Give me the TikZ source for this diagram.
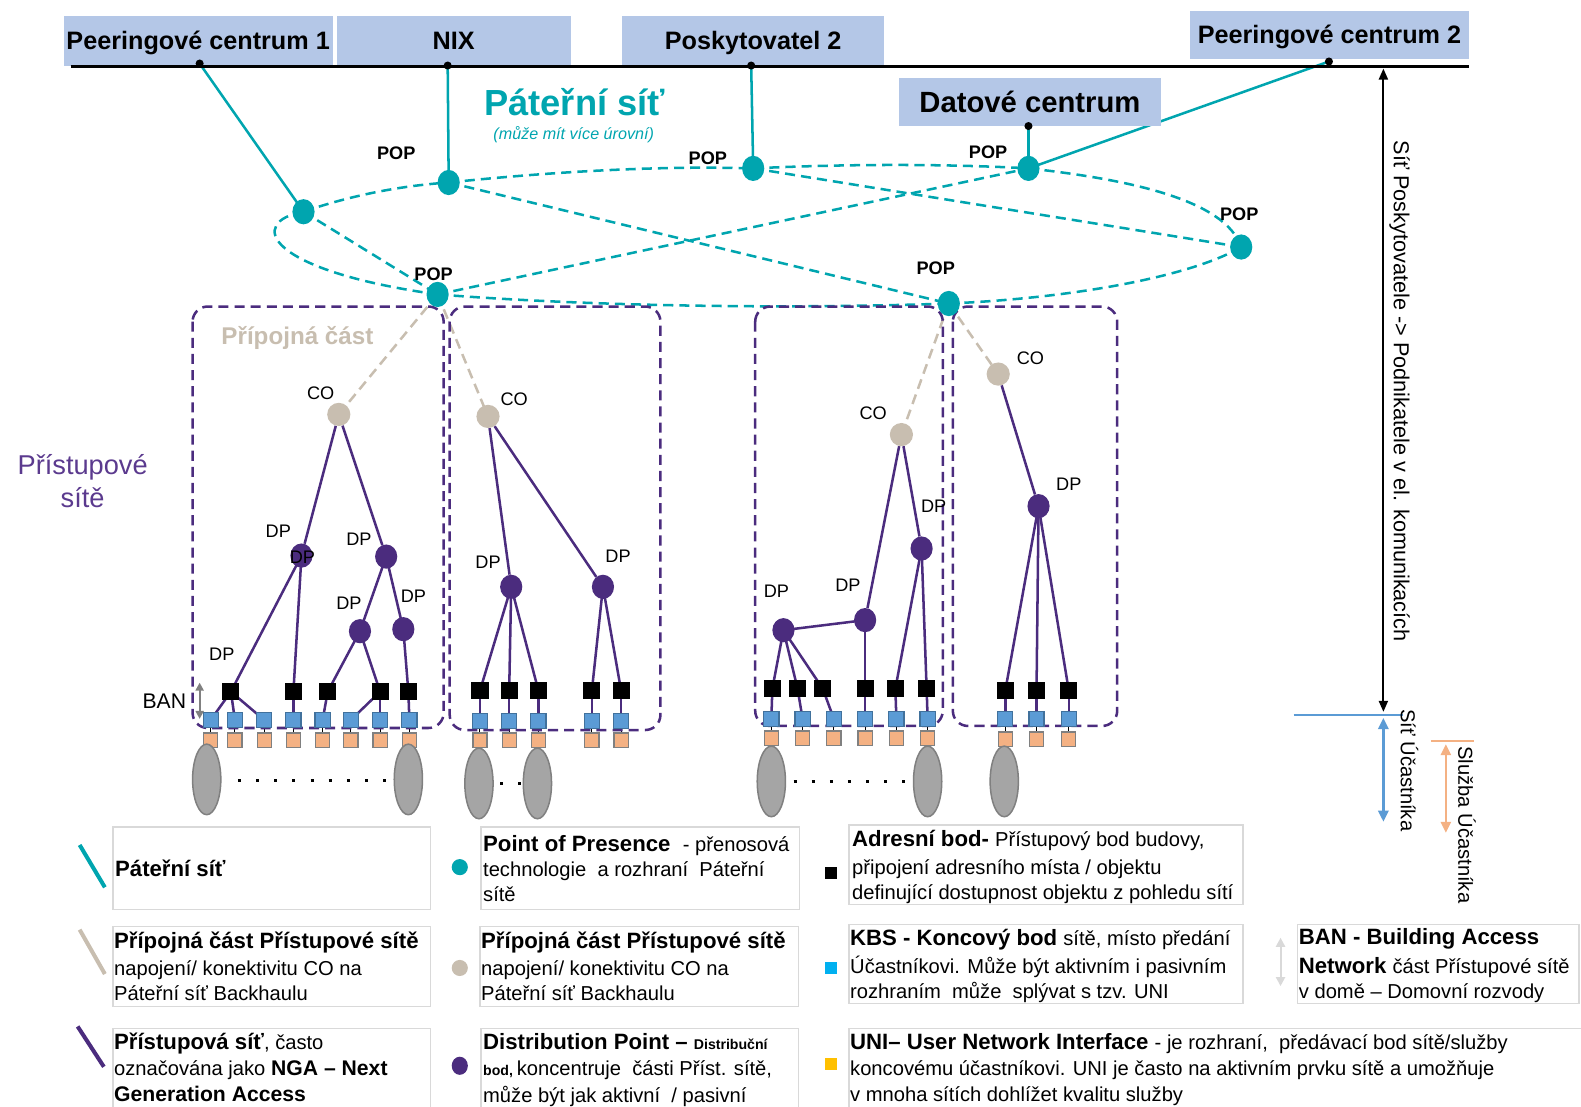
\documentclass[tikz,border=0pt]{standalone}
\usepackage{fontspec}
\setmainfont{Liberation Sans}
\usetikzlibrary{arrows.meta,shapes.geometric,backgrounds}
\definecolor{tealc}{HTML}{00A5AF}
\definecolor{purp}{HTML}{4B2C7E}
\definecolor{purptxt}{HTML}{5B3A8E}
\definecolor{beige}{HTML}{C8BEB0}
\definecolor{hdrblue}{HTML}{B4C7E7}
\definecolor{kbsblue}{HTML}{5B9BD5}
\definecolor{kbsedge}{HTML}{41719C}
\definecolor{uniorange}{HTML}{F4B183}
\definecolor{usergray}{HTML}{A5A5A5}
\definecolor{lgbox}{HTML}{D9D9D9}
\definecolor{lgblue}{HTML}{00B0F0}
\definecolor{lgyellow}{HTML}{FFC000}
\newcommand{\fsz}[1]{\fontsize{#1}{#1}\selectfont}
\newcommand{\lgB}{\fontsize{22}{26}\selectfont\bfseries}
\newcommand{\lgR}{\fontsize{20}{25}\selectfont\mdseries}
\begin{document}
\begin{tikzpicture}[x=1pt,y=-1pt,
 hdr/.style={fill=hdrblue, inner sep=0, font=\fsz{25}\bfseries, text height=17, text depth=0},
 bdot/.style={circle, fill=black, minimum size=8, inner sep=0},
 pop/.style={ellipse, fill=tealc, minimum width=22, minimum height=25, inner sep=0},
 conode/.style={circle, fill=beige, minimum size=23, inner sep=0},
 dpnode/.style={ellipse, fill=purp, minimum width=22, minimum height=24, inner sep=0},
 blk/.style={rectangle, fill=black, minimum size=17, inner sep=0},
 kbs/.style={rectangle, fill=kbsblue, draw=kbsedge, line width=1.2, minimum size=15, inner sep=0},
 uni/.style={rectangle, fill=uniorange, draw=gray, line width=1.2, minimum size=14, inner sep=0},
 user/.style={ellipse, fill=usergray, draw=gray, line width=1.5, minimum width=28, minimum height=70, inner sep=0},
 poplbl/.style={font=\fsz{18}\bfseries, inner sep=0},
 lbl/.style={font=\fsz{18}, inner sep=0},
 backbone/.style={draw=tealc, line width=2.5},
 bbdash/.style={draw=tealc, line width=2.5, dash pattern=on 10pt off 6pt},
 bgdash/.style={draw=beige, line width=2.5, dash pattern=on 10pt off 6pt},
 tree/.style={draw=purp, line width=2.5},
 pbox/.style={draw=purp, line width=2.5, dash pattern=on 10pt off 6pt, rounded corners=15},
 lgbx/.style={draw=lgbox, line width=1.5},
 lgt/.style={anchor=base west, inner sep=0},
 dots/.style={line width=3, dash pattern=on 3pt off 15pt}
]
\useasboundingbox (0,0) rectangle (1568,1097);
\clip (0,0) rectangle (1568,1097);

% ---------- header ----------
\node[hdr, minimum width=267, minimum height=49] (pc1) at (196.5,40.5) {Peeringové centrum 1};
\node[hdr, minimum width=232, minimum height=49] (nix) at (450,40.5) {NIX};
\node[hdr, minimum width=260, minimum height=49] (pos2) at (747,40.5) {Poskytovatel 2};
\node[hdr, minimum width=277, minimum height=48] (pc2) at (1318.5,35) {Peeringové centrum 2};
\node[hdr, minimum width=259, minimum height=48, font=\fsz{29}\bfseries, text height=22] (dc) at (1021.5,101) {Datové centrum};
\coordinate (barL) at (70,66);
\coordinate (barR) at (1457,66);
\draw[line width=2.5] (barL) -- (barR);
\node[bdot] (d1) at (198,63) {};
\node[bdot] (d2) at (444,65) {};
\node[bdot] (d3) at (745,65) {};
\node[bdot] (d4) at (1318,61) {};
\node[bdot] (dd) at (1020,125) {};

\node[font=\fsz{36}\bfseries, text=tealc, inner sep=0] (patn) at (570,101) {Páteřní síť};
\node[font=\fsz{16}\itshape, text=tealc, inner sep=0] (patsub) at (569,134) {(může mít více úrovní)};

% ---------- POPs ----------
\node[pop] (P1) at (301,210) {};
\node[pop] (P2) at (445,181) {};
\node[pop] (P3) at (747,167) {};
\node[pop] (P4) at (1020,167) {};
\node[pop] (P5) at (1231,245) {};
\node[pop] (P6) at (434,292) {};
\node[pop] (P7) at (941,301) {};

% ---------- access nodes ----------
\node[conode] (coA) at (336,411) {};
\node[conode] (coB) at (484,413) {};
\node[conode] (coC) at (894,431) {};
\node[conode] (coD) at (990,371) {};

\node[dpnode] (dpA1) at (299,551) {};
\node[dpnode] (dpA2) at (383,552) {};
\node[dpnode] (dpA3) at (357,626) {};
\node[dpnode] (dpA4) at (400,624) {};
\node[dpnode] (dpB1) at (507,582) {};
\node[dpnode] (dpB2) at (598,582) {};
\node[dpnode] (dpC1) at (914,544) {};
\node[dpnode] (dpC2) at (858,615) {};
\node[dpnode] (dpC3) at (777,625) {};
\node[dpnode] (dpD) at (1030,502) {};

% box A
\foreach \n/\x in {1/229,2/291,3/325,4/377,5/405} \node[blk] (bA\n) at (\x,686) {};
\foreach \n/\x in {1/209,2/233,3/262,4/291,5/320,6/348,7/377,8/406} {\node[kbs] (kA\n) at (\x,714) {}; \node[uni] (oA\n) at (\x,734) {};}
\node[user] (uA1) at (205,773) {};
\node[user] (uA2) at (405,773) {};
% box B
\foreach \n/\x in {1/476,2/505,3/534,4/587,5/616} {\node[blk] (bB\n) at (\x,685) {}; \node[kbs] (kB\n) at (\x,715) {}; \node[uni] (oB\n) at (\x,734) {};}
\node[user] (uB1) at (475,777) {};
\node[user] (uB2) at (533,777) {};
% box C
\foreach \n/\x in {1/766,2/791,3/816,4/858,5/888,6/919} \node[blk] (bC\n) at (\x,683) {};
\foreach \n/\x in {1/765,2/796,3/827,4/858,5/889,6/920} {\node[kbs] (kC\n) at (\x,713) {}; \node[uni] (oC\n) at (\x,732) {};}
\node[user] (uC1) at (765,775) {};
\node[user] (uC2) at (920,775) {};
% box D
\foreach \n/\x in {1/997,2/1028,3/1060} {\node[blk] (bD\n) at (\x,685) {}; \node[kbs] (kD\n) at (\x,713) {}; \node[uni] (oD\n) at (\x,733) {};}
\node[user] (uD1) at (996,775) {};

% ---------- connectors (background) ----------
\begin{scope}[on background layer]
\draw[backbone] (d1.center) -- (P1.center);
\draw[backbone] (d2.center) -- (P2.center);
\draw[backbone] (d3.center) -- (P3.center);
\draw[backbone] (dd.center) -- (P4.center);
\draw[backbone] (d4.center) -- (P4.center);

\draw[bbdash] (P1.center) .. controls (350,193) and (400,184) .. (P2.center);
\draw[bbdash] (P2.center) .. controls (540,171) and (650,164) .. (P3.center);
\draw[bbdash] (P3.center) .. controls (850,162) and (950,163) .. (P4.center);
\draw[bbdash] (P4.center) .. controls (1120,178) and (1215,198) .. (P5.center);
\draw[bbdash] (P5.center) .. controls (1180,275) and (1060,296) .. (P7.center);
\draw[bbdash] (P6.center) .. controls (600,305) and (800,306) .. (P7.center);
\draw[bbdash] (P1.center) .. controls (245,220) and (262,268) .. (P6.center);
\draw[bbdash] (P1.center) -- (P6.center);
\draw[bbdash] (P2.center) -- (P7.center);
\draw[bbdash] (P6.center) -- (P4.center);
\draw[bbdash] (P3.center) -- (P5.center);

\draw[bgdash] (P6.center) -- (coA.center);
\draw[bgdash] (P6.center) -- (coB.center);
\draw[bgdash] (P7.center) -- (coC.center);
\draw[bgdash] (P7.center) -- (coD.center);

\draw[tree] (coA) -- (dpA1);
\draw[tree] (coA) -- (dpA2);
\draw[tree] (dpA1.center) -- (bA1.center);
\draw[tree] (dpA1.center) -- (bA2.center);
\draw[tree] (dpA2.center) -- (dpA3.center);
\draw[tree] (dpA2.center) -- (dpA4.center);
\draw[tree] (dpA3.center) -- (bA3.center);
\draw[tree] (dpA3.center) -- (bA4.center);
\draw[tree] (dpA4.center) -- (bA5.center);
\draw[tree] (bA1.center) -- (kA1.center);
\draw[tree] (bA1.center) -- (kA2.center);
\draw[tree] (bA1.center) -- (kA3.center);
\draw[tree] (bA2.center) -- (kA4.center);
\draw[tree] (bA3.center) -- (kA5.center);
\draw[tree] (bA4.center) -- (kA6.center);
\draw[tree] (bA4.center) -- (kA7.center);
\draw[tree] (bA5.center) -- (kA8.center);

\draw[tree] (coB) -- (dpB1);
\draw[tree] (coB) -- (dpB2);
\foreach \n in {1,2,3} \draw[tree] (dpB1.center) -- (bB\n.center);
\foreach \n in {4,5} \draw[tree] (dpB2.center) -- (bB\n.center);
\foreach \n in {1,...,5} \draw[tree] (bB\n.center) -- (kB\n.center);

\draw[tree] (coC) -- (dpC2);
\draw[tree] (coC) -- (dpC1);
\draw[tree] (dpC2.center) -- (dpC3.center);
\foreach \n in {1,2,3} \draw[tree] (dpC3.center) -- (bC\n.center);
\draw[tree] (dpC2.center) -- (bC4.center);
\foreach \n in {5,6} \draw[tree] (dpC1.center) -- (bC\n.center);
\foreach \n in {1,...,6} \draw[tree] (bC\n.center) -- (kC\n.center);

\draw[tree] (coD) -- (dpD);
\foreach \n in {1,2,3} {\draw[tree] (dpD.center) -- (bD\n.center); \draw[tree] (bD\n.center) -- (kD\n.center);}

\foreach \n in {1,...,8} \draw[line width=1] (kA\n.center) -- (oA\n.center);
\foreach \n in {1,...,5} \draw[line width=1] (kB\n.center) -- (oB\n.center);
\foreach \n in {1,...,6} \draw[line width=1] (kC\n.center) -- (oC\n.center);
\foreach \n in {1,2,3} \draw[line width=1] (kD\n.center) -- (oD\n.center);

\draw[pbox] (191,304) rectangle (440,722);
\draw[pbox] (446,304) rectangle (655,724);
\draw[pbox] (749,304) rectangle (935,720);
\draw[pbox] (945,304) rectangle (1108,720);
\end{scope}

\draw[dots] (236,774) -- (385,774);
\draw[dots] (496,777) -- (520,777);
\draw[dots] (787,775) -- (900,775);

% ---------- labels ----------
\node[poplbl] (lp2) at (393,152) {POP};
\node[poplbl] (lp3) at (702,157) {POP};
\node[poplbl] (lp4) at (980,151) {POP};
\node[poplbl] (lp5) at (1229,212) {POP};
\node[poplbl] (lp6) at (430,272) {POP};
\node[poplbl] (lp7) at (928,266) {POP};

\node[lbl] (lcA) at (318,390) {CO};
\node[lbl] (lcB) at (510,396) {CO};
\node[lbl] (lcC) at (866,410) {CO};
\node[lbl] (lcD) at (1022,355) {CO};

\node[lbl] (ldA1) at (276,527) {DP};
\node[lbl] (ldA1b) at (300,553) {DP};
\node[lbl] (ldA2) at (356,535) {DP};
\node[lbl] (ldA3) at (346,598) {DP};
\node[lbl] (ldA4) at (410,591) {DP};
\node[lbl] (ldA5) at (220,649) {DP};
\node[lbl] (ldB1) at (484,558) {DP};
\node[lbl] (ldB2) at (613,552) {DP};
\node[lbl] (ldC1) at (926,502) {DP};
\node[lbl] (ldC2) at (841,580) {DP};
\node[lbl] (ldC3) at (770,586) {DP};
\node[lbl] (ldD) at (1060,480) {DP};

\node[font=\fsz{24}\bfseries, text=beige, inner sep=0] (pripc) at (295,335) {Přípojná část};
\node[font=\fontsize{27}{33}\selectfont, text=purptxt, align=center, inner sep=0] (prist) at (82,477) {Přístupové\\sítě};

\node[font=\fsz{21}, inner sep=0] (ban) at (163,695) {BAN};
\coordinate (banT) at (198,677);
\coordinate (banB) at (198,713);
\draw[{Triangle[length=8pt,width=8pt]}-{Triangle[length=8pt,width=8pt]}, draw=gray, fill=gray, line width=2] (banT) -- (banB);

% ---------- right side ----------
\coordinate (vaT) at (1372,68);
\coordinate (vaB) at (1372,706);
\draw[{Triangle[length=11pt,width=9pt]}-{Triangle[length=11pt,width=9pt]}, line width=2] (vaT) -- (vaB);
\node[rotate=-90, font=\fsz{21.5}, inner sep=0] (vtxt) at (1388,388) {Síť Poskytovatele -> Podnikatele v el. komunikacích};
\coordinate (blL) at (1283,709);
\coordinate (blR) at (1391,709);
\draw[draw=kbsblue, line width=2] (blL) -- (blR);
\coordinate (baT) at (1372,712);
\coordinate (baB) at (1372,815);
\draw[{Triangle[length=11pt,width=10pt]}-{Triangle[length=11pt,width=10pt]}, draw=kbsblue, line width=2.5] (baT) -- (baB);
\node[rotate=-90, font=\fsz{20}, inner sep=0] (vtxt2) at (1398,764) {Síť Účastníka};
\coordinate (olL) at (1419,735);
\coordinate (olR) at (1462,735);
\draw[draw=uniorange, line width=2] (olL) -- (olR);
\coordinate (oaT) at (1434,738);
\coordinate (oaB) at (1434,826);
\draw[{Triangle[length=11pt,width=10pt]}-{Triangle[length=11pt,width=10pt]}, draw=uniorange, line width=2.5] (oaT) -- (oaB);
\node[rotate=-90, font=\fsz{20}, inner sep=0] (vtxt3) at (1455,818) {Služba Účastníka};

% ---------- legend ----------
\draw[lgbx] (112,820) rectangle (427,902);
\draw[lgbx] (477,820) rectangle (793,902);
\draw[lgbx] (842,818) rectangle (1233,897);
\draw[lgbx] (112,919) rectangle (427,998);
\draw[lgbx] (476,919) rectangle (792,998);
\draw[lgbx] (842,917) rectangle (1233,995);
\draw[lgbx] (1287,917) rectangle (1566,995);
\draw[lgbx] (112,1020) rectangle (427,1110);
\draw[lgbx] (477,1020) rectangle (792,1110);
\draw[lgbx] (842,1020) rectangle (1590,1110);

\coordinate (i1a) at (79,838); \coordinate (i1b) at (104,880);
\draw[draw=tealc, line width=4] (i1a) -- (i1b);
\coordinate (i2a) at (79,922); \coordinate (i2b) at (104,966);
\draw[draw=beige, line width=4] (i2a) -- (i2b);
\coordinate (i3a) at (77,1018); \coordinate (i3b) at (103,1058);
\draw[draw=purp, line width=4] (i3a) -- (i3b);
\node[circle, fill=tealc, minimum size=16, inner sep=0] (ipop) at (456,860) {};
\node[circle, fill=beige, minimum size=16, inner sep=0] (ico) at (456,960) {};
\node[ellipse, fill=purp, minimum width=16, minimum height=18, inner sep=0] (idp) at (456,1057) {};
\node[fill=black, minimum size=12, inner sep=0] (iblk) at (824,866) {};
\node[fill=lgblue, minimum size=12, inner sep=0] (ikbs) at (824,960) {};
\node[fill=lgyellow, minimum size=12, inner sep=0] (iuni) at (824,1055) {};
\coordinate (ibT) at (1270,930); \coordinate (ibB) at (1270,978);
\draw[{Triangle[length=9pt,width=9pt]}-{Triangle[length=9pt,width=9pt]}, draw=lgbox, line width=2] (ibT) -- (ibB);

\node[lgt] (t1) at (114,869) {\lgB Páteřní síť};

\node[lgt] (t2a) at (479,844) {\lgB Point of Presence\ \ \lgR - přenosová};
\node[lgt] (t2b) at (479,869) {\lgR technologie\ \ a rozhraní\ \ Páteřní};
\node[lgt] (t2c) at (479,894) {\lgR sítě};

\node[lgt] (t3a) at (845,840) {\lgB Adresní bod- \lgR Přístupový bod budovy,};
\node[lgt] (t3b) at (845,867) {\lgR připojení adresního místa / objektu};
\node[lgt] (t3c) at (845,892) {\lgR definující dostupnost objektu z pohledu sítí};

\node[lgt] (t4a) at (113,941) {\lgB Přípojná část Přístupové sítě};
\node[lgt] (t4b) at (113,967) {\lgR napojení/ konektivitu CO na};
\node[lgt] (t4c) at (113,992) {\lgR Páteřní síť Backhaulu};

\node[lgt] (t5a) at (477,941) {\lgB Přípojná část Přístupové sítě};
\node[lgt] (t5b) at (477,967) {\lgR napojení/ konektivitu CO na};
\node[lgt] (t5c) at (477,992) {\lgR Páteřní síť Backhaulu};

\node[lgt] (t6a) at (843,938) {\lgB KBS - Koncový bod \lgR sítě, místo předání};
\node[lgt] (t6b) at (843,965) {\lgR Účastníkovi. Může být aktivním i pasivním};
\node[lgt] (t6c) at (843,990) {\lgR rozhraním\ \ může\ \ splývat s tzv. UNI};

\node[lgt] (t7a) at (1288,937) {\lgB BAN - Building Access};
\node[lgt] (t7b) at (1288,965) {\lgB Network \lgR část Přístupové sítě};
\node[lgt] (t7c) at (1288,990) {\lgR v domě – Domovní rozvody};

\node[lgt] (t8a) at (113,1041) {\lgB Přístupová síť\lgR , často};
\node[lgt] (t8b) at (113,1067) {\lgR označována jako \fontsize{21}{25}\selectfont\bfseries NGA – Next};
\node[lgt] (t8c) at (113,1092) {\fontsize{21}{25}\selectfont\bfseries Generation Access};

\node[lgt] (t9a) at (479,1041) {\lgB Distribution Point – \fontsize{14}{16}\selectfont Distribuční};
\node[lgt] (t9b) at (479,1067) {\fontsize{14}{16}\selectfont\bfseries bod, \lgR koncentruje\ \ části Příst. sítě,};
\node[lgt] (t9c) at (479,1093) {\lgR může být jak aktivní\ \ / pasivní};

\node[lgt] (t10a) at (843,1041) {\lgB UNI– User Network Interface \lgR - je rozhraní,\ \ předávací bod sítě/služby};
\node[lgt] (t10b) at (843,1067) {\lgR koncovému účastníkovi. UNI je často na aktivním prvku sítě a umožňuje};
\node[lgt] (t10c) at (843,1092) {\lgR v mnoha sítích dohlížet kvalitu služby};
\end{tikzpicture}
\end{document}
